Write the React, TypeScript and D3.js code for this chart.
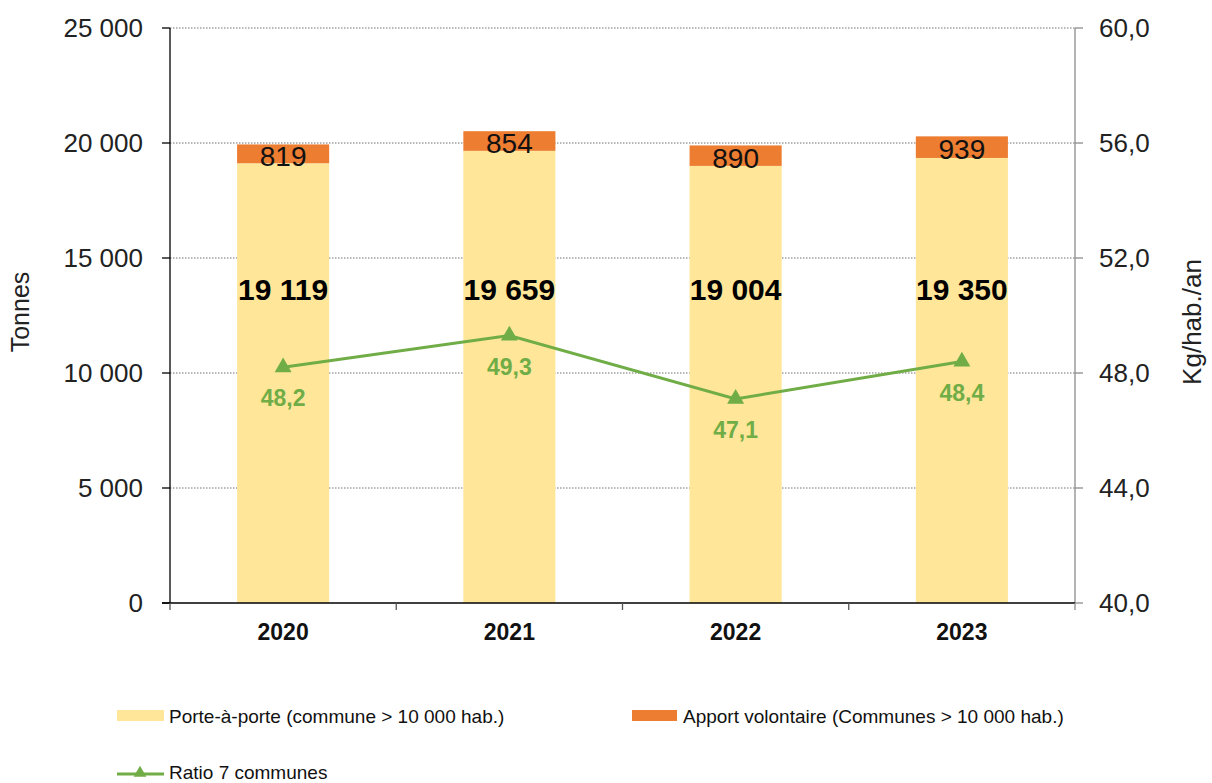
import React from "react";
import * as d3 from "d3";

const years = ["2020", "2021", "2022", "2023"];
const porteAPorte = [19119, 19659, 19004, 19350];
const apportVolontaire = [819, 854, 890, 939];
const ratio = [48.2, 49.3, 47.1, 48.4];
const leftTicks = [0, 5000, 10000, 15000, 20000, 25000];
const rightTicks = [40, 44, 48, 52, 56, 60];

const W = 1212;
const H = 783;
const M = { left: 170, right: 1075, top: 28, bottom: 603 };
const FONT = "'Liberation Sans', Arial, sans-serif";
const YELLOW = "#FFE699";
const ORANGE = "#ED7D31";
const GREEN = "#70AD47";
const CAP = 0.716;

const fmtThousands = (v: number) => {
  const s = Math.round(v).toString();
  return s.replace(/\B(?=(\d{3})+(?!\d))/g, " ");
};
const fmtDec = (v: number) => v.toFixed(1).replace(".", ",");

export default function App() {
  const x = d3.scaleBand().domain(years).range([M.left, M.right]).paddingInner(0.593).paddingOuter(0.2965);
  const yL = d3.scaleLinear().domain([0, 25000]).range([M.bottom, M.top]);
  const yR = d3.scaleLinear().domain([40, 60]).range([M.bottom, M.top]);
  const bw = x.bandwidth();
  const cx = (y: string) => (x(y) as number) + bw / 2;
  const step = (M.right - M.left) / years.length;

  const line = d3
    .line<number>()
    .x((_, i) => cx(years[i]))
    .y((d) => yR(d));

  const tri = d3.symbol().type(d3.symbolTriangle).size(125);

  const axisFs = 26;
  const valFs = 30;
  const topFs = 28;
  const ratioFs = 23;

  return (
    <svg width={W} height={H} style={{ display: "block", position: "absolute", left: 0, top: 0 }} fontFamily={FONT}>
      <rect width={W} height={H} fill="#fff" />
      {/* gridlines */}
      {leftTicks.slice(1).map((t) => (
        <line key={t} x1={M.left} x2={M.right} y1={yL(t)} y2={yL(t)} stroke="#707070" strokeWidth={1} strokeDasharray="1.5,1.5" />
      ))}
      {/* bars */}
      {years.map((yr, i) => {
        const a = porteAPorte[i];
        const b = apportVolontaire[i];
        return (
          <g key={yr}>
            <rect x={x(yr)} width={bw} y={yL(a)} height={yL(0) - yL(a)} fill={YELLOW} />
            <rect x={x(yr)} width={bw} y={yL(a + b)} height={yL(a) - yL(a + b)} fill={ORANGE} />
            <text x={cx(yr)} y={(yL(a) + yL(a + b)) / 2 + 2 + (topFs * CAP) / 2} textAnchor="middle" fontSize={topFs} fill="#111">
              {fmtThousands(b)}
            </text>
            <text x={cx(yr)} y={yL(13650) + (valFs * CAP) / 2} textAnchor="middle" fontSize={valFs} fontWeight="bold" fill="#000">
              {fmtThousands(a)}
            </text>
          </g>
        );
      })}
      {/* ratio line */}
      <path d={line(ratio) || ""} fill="none" stroke={GREEN} strokeWidth={3} />
      {ratio.map((r, i) => (
        <g key={i}>
          <path d={tri() || ""} transform={`translate(${cx(years[i])},${yR(r)})`} fill={GREEN} />
          <text x={cx(years[i])} y={yR(r) + 31 + (ratioFs * CAP) / 2} textAnchor="middle" fontSize={ratioFs} fontWeight="bold" fill={GREEN}>
            {fmtDec(r)}
          </text>
        </g>
      ))}
      {/* left axis */}
      <line x1={M.left} x2={M.left} y1={M.top} y2={M.bottom} stroke="#000" strokeWidth={1.3} />
      {leftTicks.map((t) => (
        <g key={t}>
          <line x1={M.left - 8} x2={M.left} y1={yL(t)} y2={yL(t)} stroke="#000" strokeWidth={1.3} />
          <text x={M.left - 27} y={yL(t) + (axisFs * CAP) / 2} textAnchor="end" fontSize={axisFs} fill="#222">
            {fmtThousands(t)}
          </text>
        </g>
      ))}
      {/* right axis */}
      <line x1={M.right} x2={M.right} y1={M.top} y2={M.bottom} stroke="#8c8c8c" strokeWidth={1.3} />
      {rightTicks.map((t) => (
        <g key={t}>
          <line x1={M.right} x2={M.right + 8} y1={yR(t)} y2={yR(t)} stroke="#8c8c8c" strokeWidth={1.3} />
          <text x={M.right + 24} y={yR(t) + (axisFs * CAP) / 2} textAnchor="start" fontSize={axisFs} fill="#222">
            {fmtDec(t)}
          </text>
        </g>
      ))}
      {/* x axis */}
      <line x1={M.left - 8} x2={M.right} y1={M.bottom} y2={M.bottom} stroke="#000" strokeWidth={1.3} />
      {d3.range(years.length + 1).map((i) => (
        <line key={i} x1={M.left + i * step} x2={M.left + i * step} y1={M.bottom} y2={M.bottom + 7} stroke={i === years.length ? "#8c8c8c" : "#555"} strokeWidth={1.3} />
      ))}
      {years.map((yr) => (
        <text key={yr} x={cx(yr)} y={631.5 + (23 * CAP) / 2} textAnchor="middle" fontSize={23} fontWeight="bold" fill="#111">
          {yr}
        </text>
      ))}
      {/* axis titles */}
      <text transform={`translate(22,312) rotate(-90)`} textAnchor="middle" dominantBaseline="middle" fontSize={25} fill="#222">
        Tonnes
      </text>
      <text transform={`translate(1194,322) rotate(-90)`} textAnchor="middle" dominantBaseline="middle" fontSize={26} fill="#222">
        Kg/hab./an
      </text>
      {/* legend */}
      <rect x={117} y={710} width={47} height={11} fill={YELLOW} />
      <text x={169} y={716 + (19 * CAP) / 2} fontSize={19} fill="#111">
        Porte-à-porte (commune &gt; 10 000 hab.)
      </text>
      <rect x={632} y={710} width={45} height={11} fill={ORANGE} />
      <text x={683} y={716 + (19 * CAP) / 2} fontSize={19} fill="#111">
        Apport volontaire (Communes &gt; 10 000 hab.)
      </text>
      <line x1={117} x2={164} y1={774} y2={774} stroke={GREEN} strokeWidth={3} />
      <path d={d3.symbol().type(d3.symbolTriangle).size(70)() || ""} transform="translate(140,773)" fill={GREEN} />
      <text x={169} y={772.5 + (19 * CAP) / 2} fontSize={19} fill="#111">
        Ratio 7 communes
      </text>
    </svg>
  );
}
